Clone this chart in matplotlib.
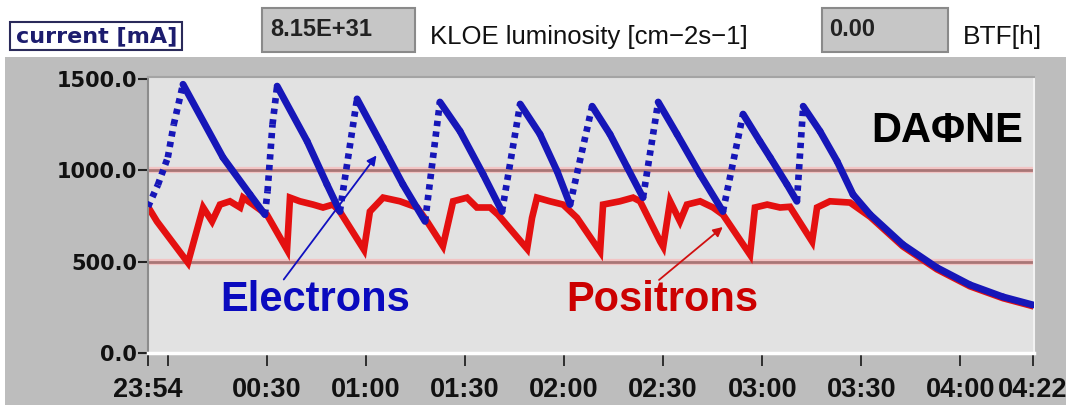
import matplotlib
matplotlib.use('Agg')
import matplotlib.pyplot as plt
from matplotlib.patches import Rectangle

# beam currents, time in minutes after midnight
e_time = [-6, -3, 0, 1.8, 4.6, 16.7, 24.9, 29.4, 30.2, 31.7, 33.1, 42.2, 48.2, 52.1,
          57.3, 65.2, 71.2, 77.9, 82.4, 88.5, 95.5, 101.2, 106.7, 112.7, 117.9, 121.8,
          128.5, 133.9, 139.1, 143.9, 148.5, 154.2, 161.2, 168.1, 174.2, 179.3, 182.4,
          187.5, 190.5, 192.4, 197.5, 202.7, 207.5, 212.7, 222.6, 232.9, 242.9, 252.9, 262.0]
e_curr = [800, 920, 1070, 1250, 1470, 1070, 867, 757, 884, 1250, 1460, 1158, 922, 774,
          1390, 1125, 922, 720, 1373, 1213, 977, 774, 1362, 1197, 994, 812,
          1350, 1197, 1016, 850, 1373, 1197, 977, 774, 1307, 1158, 1070,
          922, 830, 1350, 1213, 1048, 867, 757, 593, 467, 373, 307, 263]

p_time = [-6, -3.3, 6.1, 10.7, 13.4, 15.8, 18.8, 21.9, 22.8, 25.8, 30.0, 36.1, 37.0, 40.0,
          44.0, 47.0, 50.0, 52.1, 59.4, 61.2, 65.2, 70.3, 75.5, 78.5, 83.3, 86.4, 90.6,
          93.6, 97.6, 100.0, 108.8, 110.3, 111.8, 115.7, 119.7, 123.9, 130.9, 131.8, 136.9,
          140.9, 143.0, 149.1, 150.0, 152.1, 155.1, 157.2, 161.2, 165.1, 168.1, 176.3,
          177.8, 181.5, 185.4, 188.4, 195.1, 196.6, 200.5, 206.6, 212.7, 222.6, 232.9,
          242.9, 252.9, 262.0]
p_curr = [800, 720, 494, 796, 720, 812, 830, 796, 850, 812, 757, 565, 850, 830,
          812, 796, 812, 774, 565, 774, 850, 830, 796, 720, 585, 830, 850,
          796, 796, 757, 570, 740, 850, 830, 812, 740, 555, 812, 830,
          850, 830, 610, 582, 830, 720, 812, 830, 796, 757, 538,
          796, 812, 796, 800, 610, 796, 830, 823, 745, 583, 458,
          365, 300, 256]

ref_levels = [500, 1000]
tick_pos = [-6, 0, 30, 60, 90, 120, 150, 180, 210, 240, 262]
tick_lab = ['23:54', '', '00:30', '01:00', '01:30', '02:00', '02:30', '03:00', '03:30', '04:00', '04:22']
y_ticks = [0, 500, 1000, 1500]

W, H = 1076, 408
def fx(px):
    return px / W
def fy(py):
    return 1 - py / H

fig = plt.figure(figsize=(W / 100, H / 100), dpi=100)
fig.patch.set_facecolor('white')

# grey panel behind the plot
fig.patches.append(Rectangle((fx(5), fy(405)), fx(1066) - fx(5), fy(57) - fy(405),
                             transform=fig.transFigure, facecolor='#bdbdbd', edgecolor='none', zorder=-5))

# header widgets
fig.patches.append(Rectangle((fx(10), fy(50)), fx(172), 28 / H, transform=fig.transFigure,
                             facecolor='white', edgecolor='#2a2a5a', lw=1.5))
fig.text(fx(16), fy(36), 'current [mA]', fontsize=16, fontweight='bold', color='#1c1c6e',
         family='DejaVu Sans', va='center')
fig.patches.append(Rectangle((fx(262), fy(52)), fx(153), 44 / H, transform=fig.transFigure,
                             facecolor='#c6c6c6', edgecolor='#8a8a8a', lw=1.5))
fig.text(fx(270), fy(29), '8.15E+31', fontsize=17, fontweight='bold', color='#222222',
         family='Liberation Sans', va='center')
fig.text(fx(430), fy(37), 'KLOE luminosity [cm\u22122s\u22121]', fontsize=18.5, color='#111111',
         family='Liberation Sans', va='center')
fig.patches.append(Rectangle((fx(822), fy(52)), fx(126), 44 / H, transform=fig.transFigure,
                             facecolor='#c6c6c6', edgecolor='#8a8a8a', lw=1.5))
fig.text(fx(829), fy(29), '0.00', fontsize=17, fontweight='bold', color='#222222',
         family='Liberation Sans', va='center')
fig.text(fx(963), fy(37), 'BTF[h]', fontsize=19, color='#111111', family='Liberation Sans', va='center')

ax = fig.add_axes([fx(148), fy(353), fx(1034) - fx(148), fy(77) - fy(353)])
ax.set_facecolor('#e2e2e2')
ax.set_xlim(-6, 262.3)
ax.set_ylim(0, 1510)

for lev in ref_levels:
    ax.axhline(lev, color='#f2c4c4', lw=4.5, zorder=1)
    ax.axhline(lev, color='#a87676', lw=2, zorder=1)

ax.plot(p_time, p_curr, color='#e41010', lw=4.8, solid_joinstyle='miter', zorder=2)

# electron beam: rising parts (injection) look dotted, decays solid
for i in range(len(e_time) - 1):
    seg_t = e_time[i:i + 2]
    seg_v = e_curr[i:i + 2]
    if seg_v[1] > seg_v[0]:
        ax.plot(seg_t, seg_v, color='#1616b8', lw=4.8, linestyle=(0, (0.8, 0.8)),
                dash_capstyle='butt', zorder=3)
    else:
        ax.plot(seg_t, seg_v, color='#1616b8', lw=5, solid_capstyle='round', zorder=3)

ax.annotate('', xy=(63.7, 1093), xytext=(34.6, 390),
            arrowprops=dict(arrowstyle='-|>', color='#1010c0', lw=1.3, mutation_scale=14), zorder=4)
ax.annotate('', xy=(168.7, 699), xytext=(148.1, 390),
            arrowprops=dict(arrowstyle='-|>', color='#d01010', lw=1.3, mutation_scale=14), zorder=4)

ax.text(44.6, 290, 'Electrons', color='#0a0abe', fontsize=30, fontweight='bold',
        family='Liberation Sans', ha='center', va='center')
ax.text(149.7, 290, 'Positrons', color='#cc0000', fontsize=30, fontweight='bold',
        family='Liberation Sans', ha='center', va='center')
ax.text(236, 1215, 'DA\u03a6NE', color='black', fontsize=30, fontweight='bold',
        family='Liberation Sans', ha='center', va='center')

ax.set_xticks(tick_pos)
ax.set_xticklabels(tick_lab, family='Liberation Sans', fontweight='bold', fontsize=19.5, color='#111111')
ax.set_yticks(y_ticks)
ax.set_yticklabels(['%.1f' % v for v in y_ticks], family='DejaVu Sans', fontweight='bold',
                   fontsize=15, color='#111111')
ax.tick_params(axis='x', direction='out', length=9, width=1.3, color='#222222', pad=8)
ax.tick_params(axis='y', direction='out', length=7, width=1.5, color='#222222', pad=1)

ax.spines['bottom'].set_color('white')
ax.spines['bottom'].set_linewidth(2.5)
ax.spines['left'].set_color('#8c8c8c')
ax.spines['left'].set_linewidth(1.5)
ax.spines['top'].set_color('#a4a4a4')
ax.spines['top'].set_linewidth(1.5)
ax.spines['right'].set_color('#f2f2f2')
ax.spines['right'].set_linewidth(1.5)

fig.savefig('out.png', dpi=100)
